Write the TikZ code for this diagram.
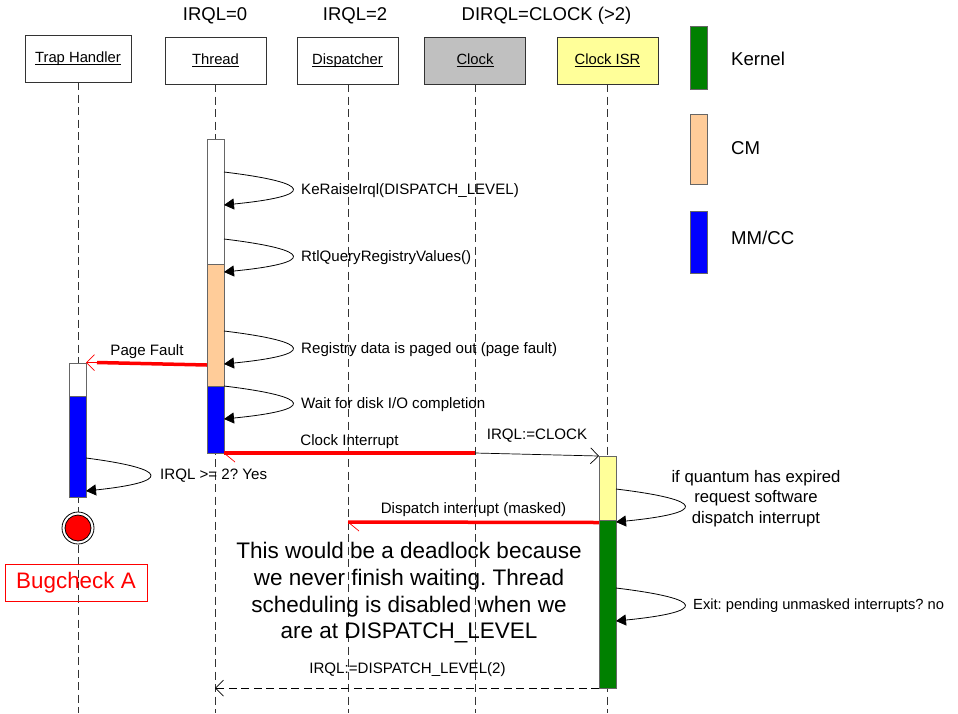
\documentclass[tikz,border=0pt]{standalone}
\usepackage{fontspec}
\setmainfont{Liberation Sans}
\usetikzlibrary{arrows.meta}
\frenchspacing
\definecolor{cmorange}{HTML}{FFCC99}
\definecolor{isryellow}{HTML}{FFFF99}
\definecolor{clockgray}{HTML}{C0C0C0}
\definecolor{kernelgreen}{HTML}{008000}
\newcommand{\objname}[1]{\underline{\smash{#1}}\vphantom{T}}
\tikzset{
    lifebox/.style={draw=black!80,minimum width=101pt,minimum height=47pt,inner sep=0pt,font=\fontsize{14.8}{17}\selectfont},
    lifeline/.style={black!80,line width=0.9pt,dash pattern=on 8pt off 4.5pt},
    actbar/.style={draw=black!60,line width=1pt,minimum width=17pt,inner sep=0pt,anchor=north},
    msg/.style={inner sep=0pt,font=\fontsize{15.1}{17}\selectfont},
    head/.style={font=\fontsize{18.5}{21}\selectfont},
    legtext/.style={anchor=west,inner sep=0pt,font=\fontsize{18.6}{21}\selectfont},
    selfcall/.style={line width=0.8pt,-{Triangle[length=10pt,width=11pt]}},
    callthin/.style={line width=0.7pt,-{Straight Barb[length=8pt,width=16pt,line width=0.7pt]}},
    redcall/.style={red,line width=3.5pt}
}
\begin{document}
\begin{tikzpicture}[x=1pt,y=-1pt]
    \useasboundingbox (0,0) rectangle (958,713);

    % objects
    \node[lifebox,minimum width=106pt] (trap) at (78,58.5) {\objname{Trap Handler}};
    \node[lifebox] (thread) at (215.5,60.5) {\objname{Thread}};
    \node[lifebox] (disp) at (347.5,60.5) {\objname{Dispatcher}};
    \node[lifebox,fill=clockgray] (clock) at (475,60.5) {\objname{Clock}};
    \node[lifebox,fill=isryellow] (isr) at (607.5,60.5) {\objname{Clock ISR}};

    \node[head] (irqlA) at (215,16) {IRQL=0};
    \node[head] (irqlB) at (355,16) {IRQL=2};
    \node[head] (irqlC) at (546.5,16) {DIRQL=CLOCK (>2)};

    % lifelines
    \coordinate (trapend) at (78,713);
    \coordinate (threadend) at (215,713);
    \coordinate (dispend) at (348,713);
    \coordinate (clockend) at (475,713);
    \coordinate (isrend) at (607,713);
    \draw[lifeline] (trap.south) -- (trapend);
    \draw[lifeline] (thread.south -| threadend) -- (threadend);
    \draw[lifeline] (disp.south -| dispend) -- (dispend);
    \draw[lifeline] (clock.south) -- (clockend);
    \draw[lifeline] (isr.south -| isrend) -- (isrend);

    % activations
    \node[actbar,fill=white,minimum height=125pt] (threadA) at (215.5,139) {};
    \node[actbar,fill=cmorange,minimum height=122pt] (threadB) at (215.5,264) {};
    \node[actbar,fill=blue,minimum height=67pt] (threadC) at (215.5,386) {};
    \node[actbar,fill=white,minimum height=33pt] (trapA) at (77.5,363) {};
    \node[actbar,fill=blue,minimum height=101pt] (trapB) at (77.5,396) {};
    \node[actbar,fill=isryellow,minimum height=64pt] (isrA) at (607.5,456) {};
    \node[actbar,fill=kernelgreen,minimum height=168pt] (isrB) at (607.5,520) {};

    % legend
    \node[actbar,fill=kernelgreen,minimum height=63pt] (legA) at (698.5,26) {};
    \node[actbar,fill=cmorange,minimum height=70pt] (legB) at (698.5,114) {};
    \node[actbar,fill=blue,minimum height=62pt] (legC) at (698.5,211) {};
    \node[legtext] (legtextA) at (731,59) {Kernel};
    \node[legtext] (legtextB) at (731,148) {CM};
    \node[legtext] (legtextC) at (731,238) {MM/CC};

    % self calls
    \draw[selfcall] (224,172) coordinate (raiseS) .. controls (315,183) and (315,196) .. (224,205) coordinate (raiseE);
    \draw[selfcall] (224,239) coordinate (queryS) .. controls (315,250) and (315,263) .. (224,272) coordinate (queryE);
    \draw[selfcall] (224,331) coordinate (pagedS) .. controls (315,342) and (315,355) .. (224,364) coordinate (pagedE);
    \draw[selfcall] (224,386) coordinate (waitS) .. controls (315,397) and (315,410) .. (224,419) coordinate (waitE);
    \draw[selfcall] (86,458) coordinate (checkS) .. controls (171,469) and (171,482) .. (86,491) coordinate (checkE);
    \draw[selfcall] (616,489) coordinate (quantS) .. controls (707,500) and (707,513) .. (616,522) coordinate (quantE);
    \draw[selfcall] (616,588) coordinate (exitS) .. controls (707,599) and (707,612) .. (616,621) coordinate (exitE);

    \node[msg,anchor=west] (raise) at (301,191) {KeRaiseIrql(DISPATCH\_LEVEL)};
    \node[msg,anchor=west] (query) at (301,258) {RtlQueryRegistryValues()};
    \node[msg,anchor=west] (paged) at (301,350) {Registry data is paged out (page fault)};
    \node[msg,anchor=west] (wait) at (301,405) {Wait for disk I/O completion};
    \node[msg,anchor=west] (check) at (160,476) {IRQL >= 2? Yes};
    \node[msg,align=center,font=\fontsize{16.7}{20.3}\selectfont] (quant) at (756,498.5) {if quantum has expired\\request software\\dispatch interrupt};
    \node[msg,anchor=west,font=\fontsize{14.7}{17}\selectfont] (exit) at (693,606) {Exit: pending unmasked interrupts? no};

    % page fault
    \coordinate (faultA) at (207,365);
    \coordinate (faultB) at (97,362.5);
    \coordinate (faultC) at (86,362.5);
    \draw[redcall] (faultA) -- (faultB);
    \draw[callthin,red] (faultB) -- (faultC);
    \node[msg] (fault) at (147,352) {Page Fault};

    % clock interrupt
    \coordinate (tickA) at (224,453);
    \coordinate (tickB) at (475,453);
    \coordinate (tickC) at (599,456);
    \draw[redcall] (tickA) -- (tickB);
    \draw[callthin,black] (tickB) -- (tickC);
    \draw[red,line width=0.7pt] (tickA) -- +(11,9);
    \node[msg] (tick) at (349.5,442) {Clock Interrupt};
    \node[msg] (setclock) at (537,436) {IRQL:=CLOCK};

    % dispatch interrupt
    \coordinate (maskedA) at (599,522.5);
    \coordinate (maskedB) at (348,522);
    \draw[redcall] (maskedA) -- (maskedB);
    \draw[red,line width=0.7pt] (maskedB) -- +(11,9);
    \node[msg] (masked) at (473.5,510) {Dispatch interrupt (masked)};

    % return
    \coordinate (backA) at (599,688);
    \coordinate (backB) at (215,688);
    \draw[callthin,dashed,dash pattern=on 8pt off 4.5pt] (backA) -- (backB);
    \node[msg] (back) at (407.5,670) {IRQL:=DISPATCH\_LEVEL(2)};

    % end of trap handler
    \node[circle,draw=black,line width=0.8pt,fill=white,minimum size=32pt,inner sep=0pt] (stopO) at (78,528) {};
    \node[circle,draw=black,line width=0.8pt,fill=red,minimum size=26pt,inner sep=0pt] (stopI) at (78,528) {};
    \node[draw=red,text=red,line width=1pt,minimum width=142pt,minimum height=37pt,inner sep=0pt,font=\fontsize{22.4}{24}\selectfont] (bug) at (76,582.5) {Bugcheck A};

    \node[align=center,font=\fontsize{22.5}{26.7}\selectfont] (note) at (409,593) {This would be a deadlock because\\we never finish waiting. Thread\\scheduling is disabled when we\\are at DISPATCH\_LEVEL};
\end{tikzpicture}
\end{document}
